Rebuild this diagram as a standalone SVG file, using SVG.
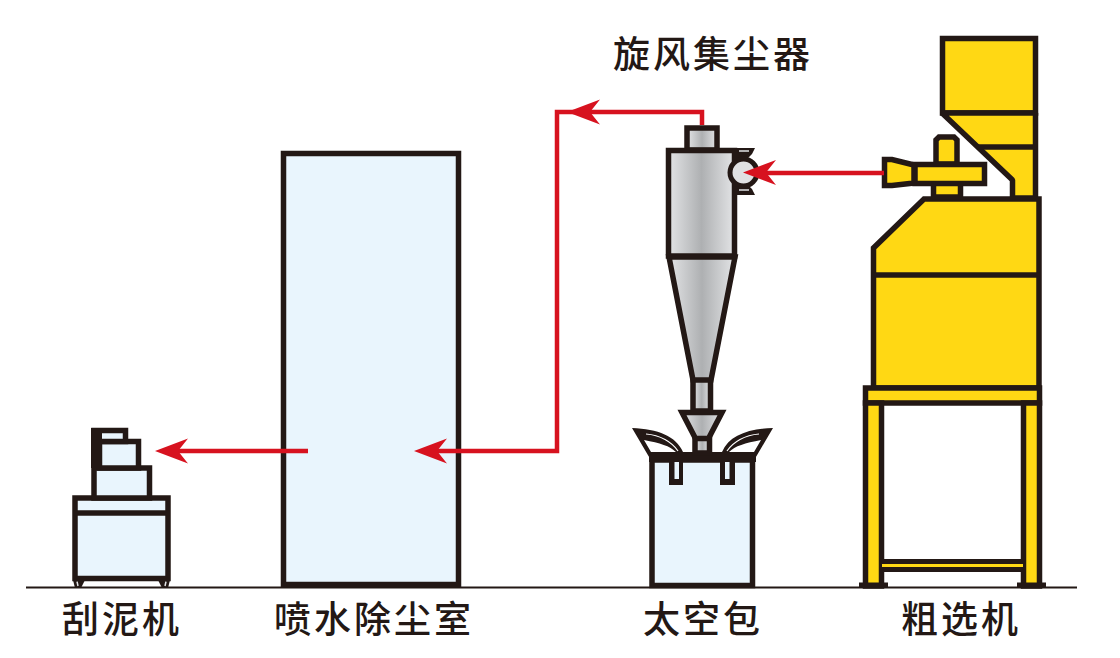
<svg xmlns="http://www.w3.org/2000/svg" width="1120" height="658" viewBox="0 0 1120 658">
<style>
.s{stroke:#231815;stroke-width:5.500;stroke-linejoin:miter}
.y{fill:#ffd814}
.b{fill:#e9f5fd}
.g{fill:url(#metal)}
.d{fill:#231815}
.t{font-family:"Noto Sans CJK SC","Noto Sans",sans-serif;font-size:37px;font-weight:500;fill:#231815;letter-spacing:3px}
.c{fill:none;stroke:#d7121f;stroke-width:4.500}
.h{fill:#d7121f}
</style>
<defs>
<linearGradient id="metal" x1="0" x2="1" y1="0" y2="0">
<stop offset="0" stop-color="#e3e4e6"/><stop offset=".5" stop-color="#aeb0b2"/><stop offset="1" stop-color="#e3e4e6"/>
</linearGradient>
<path id="ah" d="M0 0L33-12.500L23 0L33 12.500Z"/>
</defs>
<rect width="1120" height="658" fill="#fff"/>
<path d="M26 587.500H1077" stroke="#231815" stroke-width="2"/>

<g id="scraper">
<path class="d" d="M73 580H85L81 588H75ZM170 580H158L162 588H168Z"/>
<path d="M77 581.500L78 586M166 581.500L165 586" stroke="#e3e4e6" stroke-width="1.500"/>
<rect class="s b" x="75" y="498" width="93" height="80.500"/>
<path d="M73 513H170" class="s"/>
<rect class="s b" x="94" y="468" width="55.500" height="30"/>
<rect class="s b" x="99.500" y="441.500" width="39" height="26.500"/>
<rect class="s b" x="94" y="430.500" width="31.500" height="11"/>
<path class="d" d="M91 428H102V468H91Z"/>
</g>

<g id="chamber">
<rect class="s b" x="283.500" y="153.500" width="175" height="431"/>
</g>

<g id="bag">
<path class="d" d="M632 428C658 429 676 436 683 452V462H652ZM773 428C747 429 729 436 722 452V462H753Z"/>
<path d="M644 440C660 443 670 446 676 452H651ZM761 440C745 443 735 446 729 452H754Z" fill="#fff"/>
<path d="M646 434C660 435 672 442 678 451M759 434C745 435 733 442 727 451" fill="none" stroke="#fff" stroke-width="1.200"/>
<rect class="s b" x="652" y="460" width="100.500" height="125.500"/>
<path class="d" d="M649 452H756V462H649Z"/>
<path class="d" d="M669 462H683V485H669ZM720 462H735V485H720Z"/>
<path class="b" d="M674.500 462H679V479H674.500ZM725 462H729.500V479H725Z"/>
</g>

<g id="cyclone">
<rect class="s g" x="695" y="438" width="14.500" height="15"/>
<path class="s g" d="M682 412.500H722L708.500 438.500H695.500Z"/>
<rect class="s g" x="693" y="379" width="17.500" height="32"/>
<path class="s g" d="M669 257L693 380H711L735 257Z"/>
<rect class="s g" x="687" y="128" width="30" height="22"/>
<rect class="s g" x="668.500" y="150.500" width="66" height="105.500"/>
<path class="d" d="M737 148H755L752 154L746 160H737ZM737 195H755L752 189L746 183H737Z"/>
<path d="M739 151H749M739 190H749" stroke="#e0e1e3" stroke-width="1.500"/>
<circle cx="743.500" cy="172.500" r="13.500" fill="#e0e1e3" stroke="#231815" stroke-width="5"/>
</g>

<g id="separator">
<rect class="s y" x="942.500" y="38.500" width="93" height="74.500"/>
<path class="s y" style="stroke-linejoin:bevel" d="M942 113H1035.500V198H1012.500V180Z"/>
<path class="s" d="M977 147H1036"/>
<path class="s y" d="M873.500 388V248L924 199H1039V388Z"/>
<path class="s" d="M873 275H1040"/>
<rect class="s y" x="865.500" y="388" width="174" height="15"/>
<rect class="s y" x="865.500" y="403" width="16" height="183"/>
<rect class="s y" x="1023.500" y="403" width="16" height="183"/>
<path d="M882 561.500H1023M882 569.500H1023" stroke="#231815" stroke-width="5"/>
<path d="M882 565.500H1023" stroke="#ffd814" stroke-width="3"/>
<path d="M859 585H888M1017 585H1046" stroke="#231815" stroke-width="5"/>
<path class="s y" d="M936 164V140L939 137H954L957 140V164Z"/>
<rect class="s y" x="933.500" y="182" width="27" height="15"/>
<rect class="s y" x="915" y="164.500" width="69.500" height="19"/>
<path class="s y" d="M884.500 159.500H892L914 165V183L892 185.500H884.500Z"/>
</g>

<g id="connectors">
<path class="c" d="M884 173H760"/>
<use href="#ah" class="h" x="743" y="172.500"/>
<path class="c" d="M702 125V112H557V451H435"/>
<use href="#ah" class="h" x="567" y="112"/>
<use href="#ah" class="h" x="414" y="451"/>
<path class="c" d="M308 451H175"/>
<use href="#ah" class="h" x="155" y="451"/>
</g>

<g id="labels">
<text class="t" x="613" y="68">旋风集尘器</text>
<text class="t" x="62" y="633">刮泥机</text>
<text class="t" x="274" y="633">喷水除尘室</text>
<text class="t" x="643" y="633">太空包</text>
<text class="t" x="901" y="633">粗选机</text>
</g>
</svg>
